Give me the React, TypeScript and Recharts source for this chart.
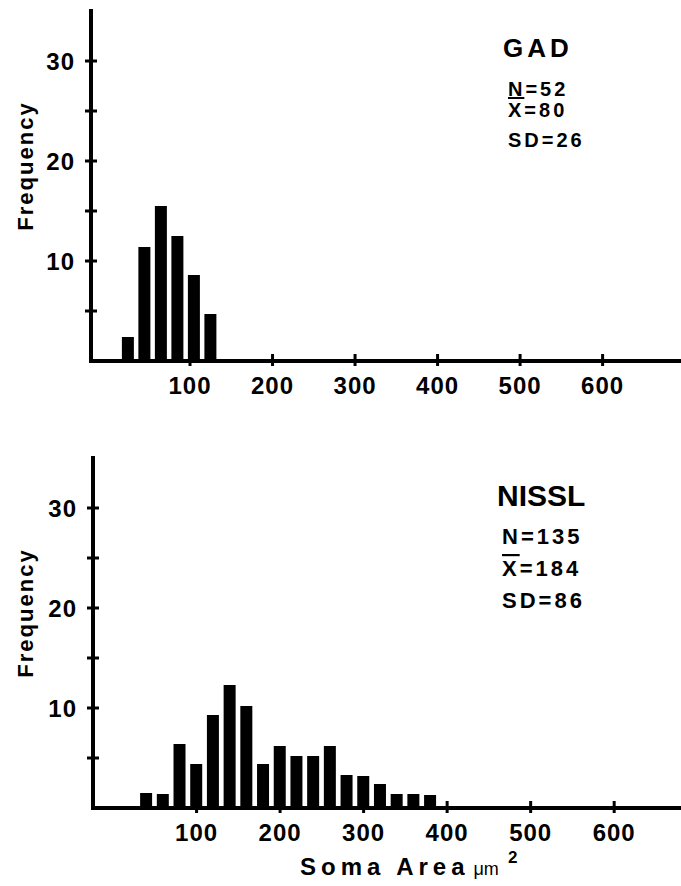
import React from 'react'
import { BarChart, Bar, XAxis, YAxis } from 'recharts'

// bin centres (soma area, µm²) and frequencies
const gadBins = [25, 45, 65, 85, 105, 125]
const gadFreq = [2.4, 11.4, 15.5, 12.5, 8.6, 4.7]

const nisslBins = [40, 60, 80, 100, 120, 140, 160, 180, 200, 220, 240, 260, 280, 300, 320, 340, 360, 380]
const nisslFreq = [1.5, 1.4, 6.4, 4.4, 9.3, 12.3, 10.2, 4.4, 6.2, 5.2, 5.2, 6.2, 3.3, 3.2, 2.4, 1.4, 1.4, 1.3]

const xTicks = [100, 200, 300, 400, 500, 600]
const yTicks = [5, 10, 15, 20, 25, 30]

const gadStats = ['N=52', '=80', 'SD=26']
const nisslStats = ['N=135', '=184', 'SD=86']

const FONT = '"Liberation Sans", Arial, sans-serif'

const gadData = gadBins.map((bin, i) => ({ bin, freq: gadFreq[i] }))
const nisslData = nisslBins.map((bin, i) => ({ bin, freq: nisslFreq[i] }))

const YTick = (props: any) => {
    const { x, y, payload } = props
    const v = payload.value
    return (
        <g>
            <line x1={x - 6} x2={x + 6} y1={y} y2={y} stroke="#000" strokeWidth={3} />
            {v % 10 === 0 && (
                <text x={x - 16} y={y + 9} textAnchor="end" fontFamily={FONT} fontWeight="bold" fontSize={24} letterSpacing={1} fill="#000">
                    {v}
                </text>
            )}
        </g>
    )
}

const XTick = (props: any) => {
    const { x, y, payload } = props
    return (
        <g>
            <line x1={x} x2={x} y1={y - 7} y2={y + 5} stroke="#000" strokeWidth={3} />
            <text x={x} y={y + 33} textAnchor="middle" fontFamily={FONT} fontWeight="bold" fontSize={24} letterSpacing={1} fill="#000">
                {payload.value}
            </text>
        </g>
    )
}

const Histogram: React.FC<{
    data: Array<{ bin: number; freq: number }>
    width: number
    height: number
    top: number
    yWidth: number
    xHeight: number
    domain: [number, number]
}> = ({ data, width, height, top, yWidth, xHeight, domain }) => (
    <BarChart width={width} height={height} data={data} margin={{ top, right: 0, bottom: 0, left: 0 }}>
        <XAxis
            type="number"
            dataKey="bin"
            domain={domain}
            allowDataOverflow
            ticks={xTicks}
            interval={0}
            height={xHeight}
            tickSize={0}
            tickMargin={0}
            tickLine={false}
            axisLine={{ stroke: '#000', strokeWidth: 4, strokeLinecap: 'square' }}
            tick={<XTick />}
        />
        <YAxis
            type="number"
            domain={[0, 35]}
            allowDataOverflow
            ticks={yTicks}
            interval={0}
            width={yWidth}
            tickSize={0}
            tickMargin={0}
            tickLine={false}
            axisLine={{ stroke: '#000', strokeWidth: 4, strokeLinecap: 'square' }}
            tick={<YTick />}
        />
        <Bar dataKey="freq" fill="#000" barSize={12} isAnimationActive={false} />
    </BarChart>
)

const Stats: React.FC<{ lines: string[]; x: number; ys: number[]; size: number }> = ({ lines, x, ys, size }) => (
    <>
        {lines.map((s, i) => (
            <text key={i} x={x} y={ys[i]} fontFamily={FONT} fontWeight="bold" fontSize={size} letterSpacing={3} fill="#000">
                {i === 1 && <tspan textDecoration="overline">X</tspan>}
                {s}
            </text>
        ))}
    </>
)

export default function App() {
    return (
        <div style={{ position: 'absolute', left: 0, top: 0, width: 681, height: 886, background: '#fff', fontFamily: FONT }}>
            <div style={{ position: 'absolute', left: 0, top: 0 }}>
                <Histogram data={gadData} width={681} height={420} top={11} yWidth={91} xHeight={59} domain={[-20, 695]} />
            </div>
            <div style={{ position: 'absolute', left: 0, top: 440 }}>
                <Histogram data={nisslData} width={681} height={446} top={18} yWidth={93} xHeight={78} domain={[-24, 680]} />
            </div>
            <svg width={681} height={886} style={{ position: 'absolute', left: 0, top: 0, pointerEvents: 'none' }}>
                <text x={33} y={166} transform="rotate(-90 33 166)" textAnchor="middle" fontFamily={FONT} fontWeight="bold" fontSize={22} letterSpacing={2} fill="#000">
                    Frequency
                </text>
                <text x={33} y={613} transform="rotate(-90 33 613)" textAnchor="middle" fontFamily={FONT} fontWeight="bold" fontSize={22} letterSpacing={2} fill="#000">
                    Frequency
                </text>

                <text x={503} y={57} fontFamily={FONT} fontWeight="bold" fontSize={26} letterSpacing={4} fill="#000">
                    GAD
                </text>
                <Stats lines={gadStats} x={508} ys={[96, 117, 147]} size={20} />

                <text x={497} y={506} fontFamily={FONT} fontWeight="bold" fontSize={30} letterSpacing={0} fill="#000">
                    NISSL
                </text>
                <Stats lines={nisslStats} x={502} ys={[544, 576, 608]} size={22} />

                <text x={300} y={875} fontFamily={FONT} fontWeight="bold" fontSize={24} letterSpacing={5} fill="#000">
                    Soma Area
                    <tspan fontWeight="normal" fontSize={18} letterSpacing={0} dx={4}>μm</tspan>
                    <tspan fontSize={17} letterSpacing={0} dx={9} dy={-12}>2</tspan>
                </text>
            </svg>
        </div>
    )
}
